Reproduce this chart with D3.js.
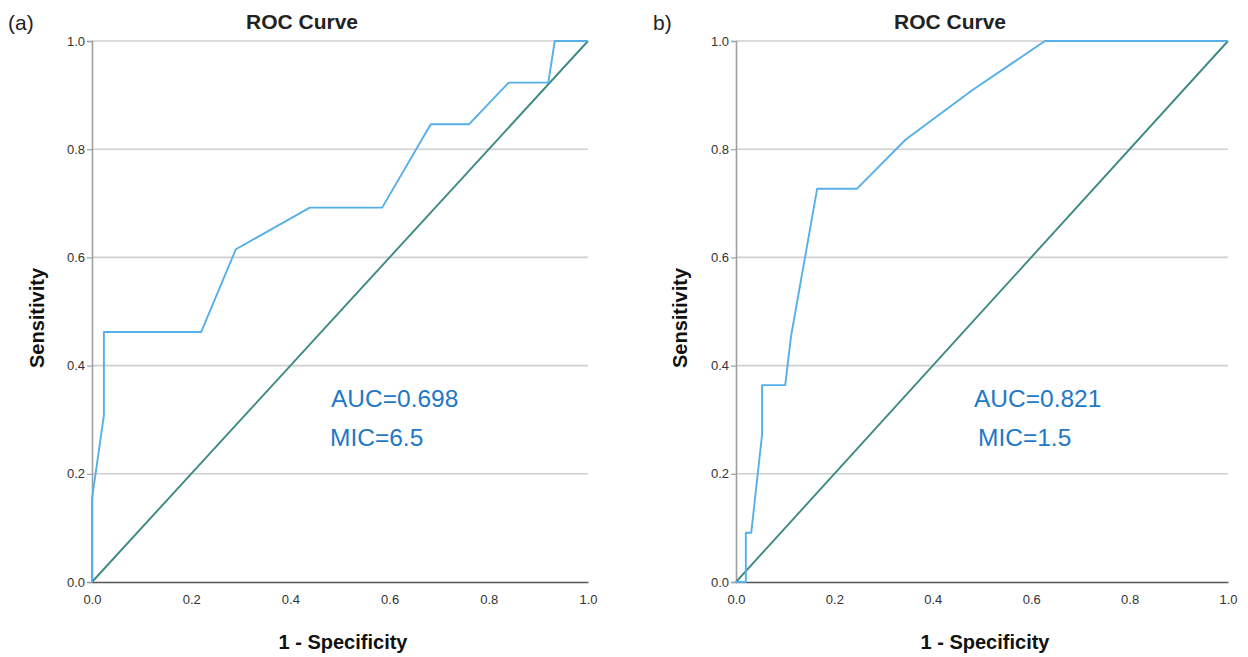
<!DOCTYPE html>
<html>
<head>
<meta charset="utf-8">
<script src="https://cdn.jsdelivr.net/npm/d3@7"></script>
<style>
  body { margin: 0; background: #fff; }
  text { font-family: "Liberation Sans", Arial, sans-serif; }
</style>
</head>
<body>
<script>
// ROC points: [1 - specificity, sensitivity]
const rocA = [[0,0],[0,0.154],[0.024,0.308],[0.024,0.462],[0.22,0.462],[0.29,0.615],[0.439,0.692],
  [0.585,0.692],[0.683,0.846],[0.76,0.846],[0.84,0.923],[0.92,0.923],[0.933,1],[1,1]];
const rocB = [[0,0],[0.02,0],[0.02,0.091],[0.031,0.091],[0.053,0.273],[0.053,0.364],[0.1,0.364],
  [0.112,0.455],[0.165,0.727],[0.246,0.727],[0.345,0.818],[0.48,0.909],[0.628,1],[1,1]];
const refLine = [[0,0],[1,1]];
const ticks = [0, 0.2, 0.4, 0.6, 0.8, 1.0];
const panelLabels = ["(a)", "b)"];
const aucText = ["AUC=0.698", "AUC=0.821"];
const micText = ["MIC=6.5", "MIC=1.5"];

const svg = d3.select("body").append("svg")
  .attr("width", 1248)
  .attr("height", 657);

// panel layout
const panels = [
  {data: rocA, x0: 92, x1: 588, tagX: 8, titleX: 302, aucX: 331, micX: 330, ylabX: 37},
  {data: rocB, x0: 736, x1: 1228, tagX: 653, titleX: 950, aucX: 974, micX: 978, ylabX: 680}
];

panels.forEach((p, k) => {
  let x = d3.scaleLinear().domain([0, 1]).range([p.x0, p.x1]);
  let y = d3.scaleLinear().domain([0, 1]).range([582, 41]);
  let g = svg.append("g");

  //gridlines
  g.selectAll(".grid").data(ticks.slice(1)).join("line")
    .attr("x1", p.x0).attr("x2", p.x1)
    .attr("y1", d => y(d)).attr("y2", d => y(d))
    .attr("stroke", "#cfcfcf").attr("stroke-width", 1.6);

  //y axis
  let yAxis = g.append("g")
    .attr("transform", `translate(${p.x0},0)`)
    .call(d3.axisLeft(y).tickValues(ticks).tickFormat(d3.format(".1f")).tickSize(5).tickPadding(2));
  yAxis.select(".domain").attr("stroke", "#a0a0a0").attr("stroke-width", 1.6);
  yAxis.selectAll(".tick line").attr("stroke", "#a0a0a0").attr("stroke-width", 1.2);
  yAxis.selectAll(".tick text").attr("font-size", 13).attr("fill", "#333")
    .attr("font-family", "Liberation Sans, Arial, sans-serif");

  //x axis
  let xAxis = g.append("g")
    .attr("transform", "translate(0,582)")
    .call(d3.axisBottom(x).tickValues(ticks).tickFormat(d3.format(".1f")).tickSize(0).tickPadding(13));
  xAxis.select(".domain").attr("stroke", "#555").attr("stroke-width", 1.6);
  xAxis.selectAll(".tick text").attr("font-size", 13).attr("fill", "#333")
    .attr("font-family", "Liberation Sans, Arial, sans-serif");

  let line = d3.line().x(d => x(d[0])).y(d => y(d[1]));

  //reference diagonal
  g.append("path").datum(refLine).attr("d", line)
    .attr("fill", "none").attr("stroke", "#3e8a82").attr("stroke-width", 1.9);

  //roc curve
  g.append("path").datum(p.data).attr("d", line)
    .attr("fill", "none").attr("stroke", "#55b0ea").attr("stroke-width", 1.9)
    .attr("stroke-linejoin", "round");

  //titles
  g.append("text").attr("x", p.titleX).attr("y", 29)
    .attr("text-anchor", "middle").attr("font-size", 21).attr("font-weight", "bold")
    .attr("fill", "#222").text("ROC Curve");
  g.append("text").attr("x", p.tagX).attr("y", 30)
    .attr("font-size", 21).attr("fill", "#222").text(panelLabels[k]);
  g.append("text").attr("x", (p.x0 + p.x1) / 2 + 3).attr("y", 649)
    .attr("text-anchor", "middle").attr("font-size", 20).attr("font-weight", "bold")
    .attr("fill", "#111").text("1 - Specificity");
  g.append("text")
    .attr("transform", `translate(${p.ylabX + 7},318) rotate(-90)`)
    .attr("text-anchor", "middle").attr("font-size", 20).attr("font-weight", "bold")
    .attr("fill", "#111").text("Sensitivity");

  //auc / mic
  g.append("text").attr("x", p.aucX).attr("y", 407)
    .attr("font-size", 24.5).attr("fill", "#1f78c8").text(aucText[k]);
  g.append("text").attr("x", p.micX).attr("y", 446)
    .attr("font-size", 24.5).attr("fill", "#1f78c8").text(micText[k]);
});
</script>
</body>
</html>
